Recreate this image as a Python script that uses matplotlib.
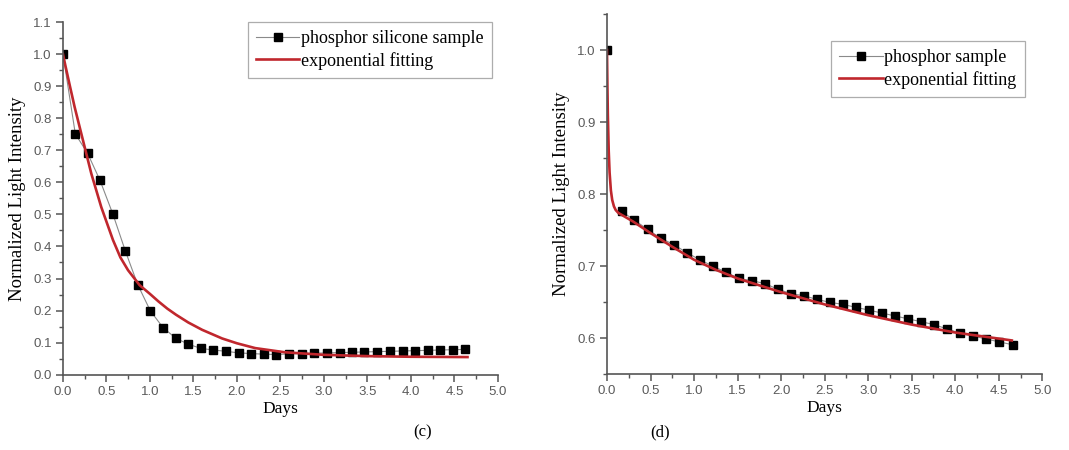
import matplotlib
matplotlib.use("Agg")
import matplotlib.pyplot as plt
from matplotlib.ticker import MultipleLocator, FormatStrFormatter

# ── panel (c): phosphor silicone sample ───────────────────────────────────────
c_days = [0.0, 0.142, 0.284, 0.426, 0.575, 0.717, 0.859, 1.005, 1.150, 1.296,
          1.442, 1.587, 1.729, 1.875, 2.020, 2.166, 2.308, 2.454, 2.599, 2.745,
          2.887, 3.033, 3.179, 3.324, 3.466, 3.612, 3.758, 3.903, 4.045, 4.191,
          4.337, 4.479, 4.624]
c_intensity = [1.0, 0.751, 0.690, 0.606, 0.500, 0.386, 0.281, 0.199, 0.147, 0.114,
               0.095, 0.082, 0.077, 0.073, 0.068, 0.066, 0.064, 0.063, 0.065, 0.066,
               0.067, 0.068, 0.069, 0.070, 0.071, 0.072, 0.073, 0.074, 0.075, 0.076,
               0.077, 0.078, 0.079]
c_fit_days = [0.0, 0.027, 0.08, 0.134, 0.23, 0.326, 0.44, 0.575, 0.66, 0.748, 0.882,
              1.0, 1.1, 1.2, 1.3, 1.44, 1.6, 1.83, 2.0, 2.21, 2.55, 3.0, 3.5, 4.0, 4.65]
c_fit = [1.0, 0.965, 0.90, 0.835, 0.731, 0.627, 0.523, 0.420, 0.366, 0.326, 0.279,
         0.252, 0.228, 0.206, 0.187, 0.163, 0.140, 0.113, 0.098, 0.083, 0.070, 0.062,
         0.058, 0.056, 0.055]

# ── panel (d): phosphor sample ────────────────────────────────────────────────
d_days = [0.0, 0.169, 0.314, 0.467, 0.617, 0.766, 0.915, 1.065, 1.218, 1.363,
          1.513, 1.662, 1.811, 1.964, 2.113, 2.263, 2.409, 2.558, 2.707, 2.860,
          3.009, 3.159, 3.308, 3.457, 3.607, 3.756, 3.905, 4.058, 4.207, 4.357,
          4.506, 4.660]
d_intensity = [1.0, 0.776, 0.764, 0.751, 0.739, 0.730, 0.719, 0.709, 0.700, 0.692,
               0.683, 0.680, 0.676, 0.668, 0.662, 0.659, 0.654, 0.650, 0.647, 0.643,
               0.639, 0.635, 0.631, 0.627, 0.623, 0.619, 0.613, 0.607, 0.603, 0.599,
               0.595, 0.591]
d_fit_days = [0.0, 0.005, 0.01, 0.02, 0.03, 0.045, 0.06, 0.08, 0.10, 0.13, 0.3, 0.5,
              0.75, 1.0, 1.25, 1.5, 2.0, 2.5, 3.0, 3.5, 4.0, 4.65]
d_fit = [1.0, 0.95, 0.91, 0.86, 0.83, 0.805, 0.792, 0.783, 0.778, 0.774, 0.762, 0.746,
         0.727, 0.709, 0.695, 0.683, 0.664, 0.647, 0.632, 0.619, 0.608, 0.597]

SERIF = ["Liberation Serif", "DejaVu Serif"]
TICKFONT = ["Liberation Sans", "DejaVu Sans"]
RED = "#c0272d"
GREY = "#8a8a8a"


def style_axes(ax, ylim):
    ax.set_xlim(0, 5.0)
    ax.set_ylim(*ylim)
    for s in ("top", "right"):
        ax.spines[s].set_visible(False)
    for s in ("left", "bottom"):
        ax.spines[s].set_color("#555555")
        ax.spines[s].set_linewidth(1.2)
    ax.xaxis.set_major_locator(MultipleLocator(0.5))
    ax.xaxis.set_minor_locator(MultipleLocator(0.25))
    ax.yaxis.set_major_locator(MultipleLocator(0.1))
    ax.yaxis.set_minor_locator(MultipleLocator(0.05))
    ax.xaxis.set_major_formatter(FormatStrFormatter("%.1f"))
    ax.yaxis.set_major_formatter(FormatStrFormatter("%.1f"))
    ax.tick_params(which="major", direction="out", length=5, width=1.1,
                   color="#555555", labelcolor="#5a5a5a", labelsize=9.5, pad=3)
    ax.tick_params(which="minor", direction="out", length=3, width=1.0, color="#555555")
    for lab in ax.get_xticklabels() + ax.get_yticklabels():
        lab.set_family(TICKFONT)
    ax.set_xlabel("Days", family=SERIF, fontsize=12.5, labelpad=2)
    ax.set_ylabel("Normalized Light Intensity", family=SERIF, fontsize=13.5, labelpad=5)


def add_legend(ax, anchor):
    leg = ax.legend(loc="upper left", bbox_to_anchor=anchor,
                    prop={"family": SERIF, "size": 13}, frameon=True, fancybox=False,
                    edgecolor="#999999", handlelength=2.4, handletextpad=0.1,
                    borderpad=0.45, labelspacing=0.25, borderaxespad=0)
    leg.get_frame().set_linewidth(0.9)


fig = plt.figure(figsize=(10.69, 4.5), dpi=100)

ax1 = fig.add_axes([0.0589, 0.1673, 0.4069, 0.7838])
ax1.plot(c_days, c_intensity, color=GREY, lw=0.8, marker="s", ms=6,
         mfc="black", mec="black", label="phosphor silicone sample")
ax1.plot(c_fit_days, c_fit, color=RED, lw=1.9, label="exponential fitting")
style_axes(ax1, (0, 1.1))
add_legend(ax1, (0.425, 1.0))

ax2 = fig.add_axes([0.5678, 0.1682, 0.4072, 0.8007])
# connector hidden under the steep fit at the start, as in the original
ax2.plot(d_days[1:], d_intensity[1:], color=GREY, lw=0.8)
ax2.plot(d_days, d_intensity, color=GREY, lw=0.8, ls="none", marker="s", ms=6,
         mfc="black", mec="black")
ax2.plot([], [], color=GREY, lw=0.8, marker="s", ms=6, mfc="black", mec="black",
         label="phosphor sample")
ax2.plot(d_fit_days, d_fit, color=RED, lw=1.9, label="exponential fitting")
style_axes(ax2, (0.55, 1.05))
add_legend(ax2, (0.515, 0.925))

fig.text(423 / 1069, 1 - 432 / 450, "(c)", family=SERIF, fontsize=12, ha="center", va="center")
fig.text(660 / 1069, 1 - 432 / 450, "(d)", family=SERIF, fontsize=12, ha="center", va="center")

fig.savefig("out.png", dpi=100)
